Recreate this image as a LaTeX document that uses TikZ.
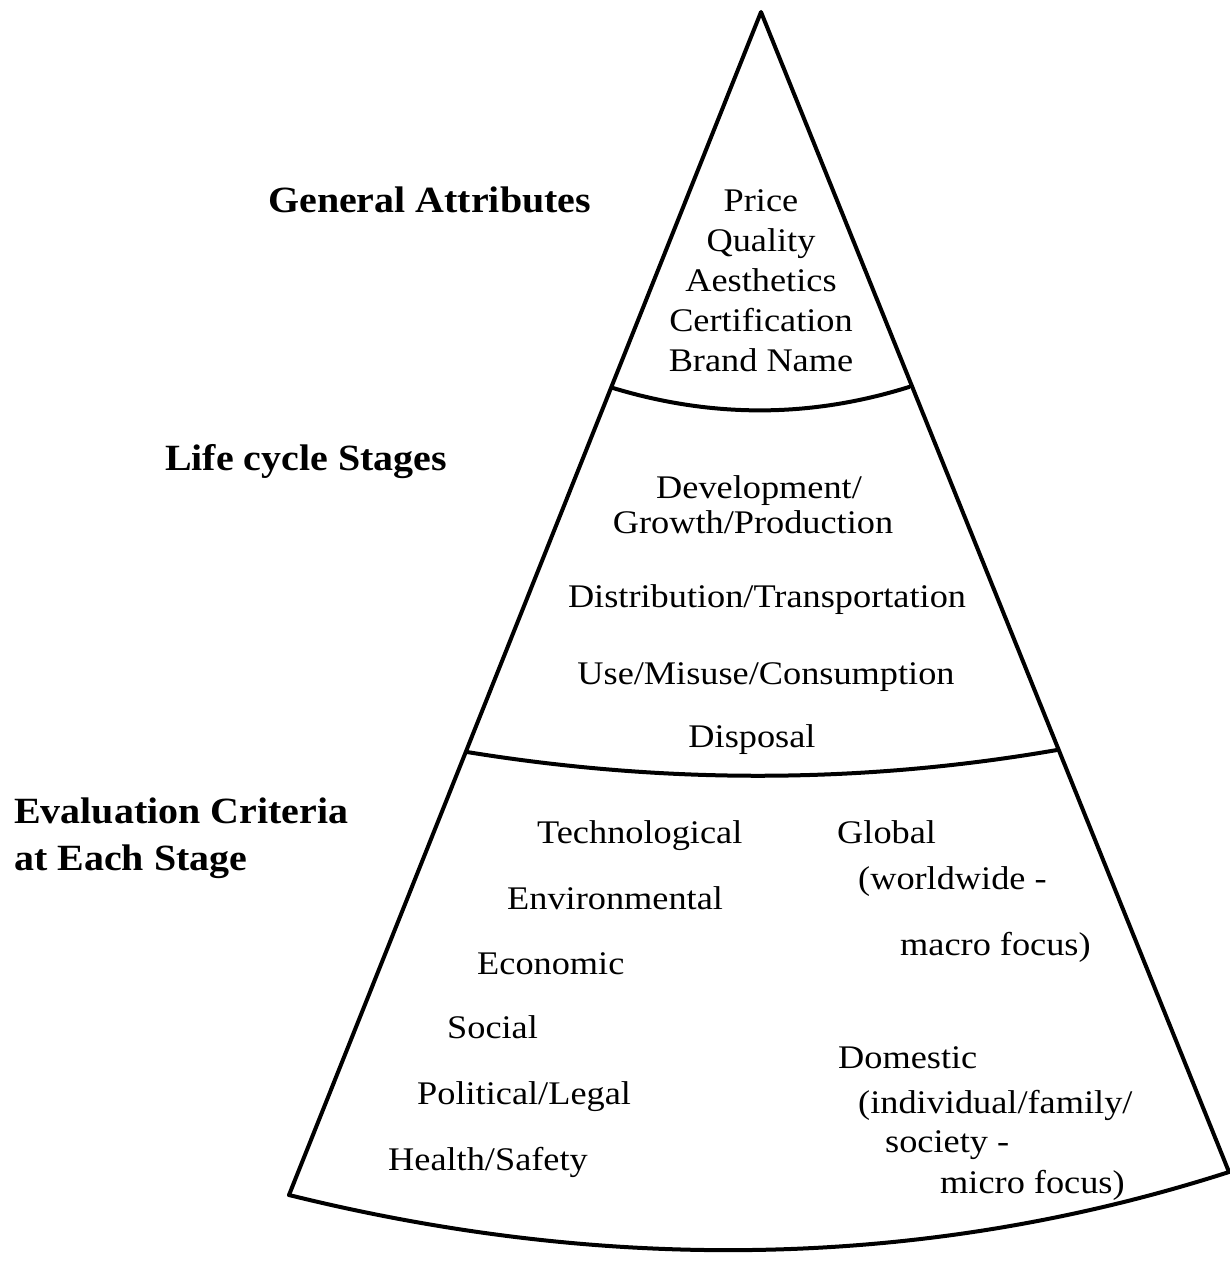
\documentclass[tikz,border=0pt]{standalone}
\usepackage{fontspec}
\setmainfont{Liberation Serif}[FakeStretch=1.1]
\newfontfamily\headfont{Liberation Serif}[FakeStretch=1.08]
\begin{document}
\begin{tikzpicture}[x=1pt,y=-1pt,
  edge/.style={line width=4pt,line join=round,line cap=round},
  item/.style={inner sep=0pt,anchor=base,font=\fontsize{33}{40}\selectfont},
  itemw/.style={item,anchor=base west},
  head/.style={inner sep=0pt,anchor=base west,font=\headfont\fontsize{37}{44}\selectfont\bfseries}]
\useasboundingbox (0,0) rectangle (1229,1263);
% outline of the pyramid segment
\coordinate (apex) at (761,12);
\coordinate (l1) at (613,388);  \coordinate (r1) at (909,387);
\coordinate (l2) at (467,752);  \coordinate (r2) at (1057,750);
\coordinate (l3) at (289,1195); \coordinate (r3) at (1229,1172);
\draw[edge] (l3) -- (apex) -- (r3);
\draw[edge] (l1) .. controls (712,418) and (810,418) .. (r1);
\draw[edge] (l2) .. controls (664,784) and (861,784) .. (r2);
\draw[edge] (l3) .. controls (600,1272) and (918,1272) .. (r3);

% level headings
\node[head] (h1) at (268,212) {General Attributes};
\node[head] (h2) at (165,470) {Life cycle Stages};
\node[head] (h3) at (14,823) {Evaluation Criteria};
\node[head] (h4) at (14,870) {at Each Stage};

% top level
\node[item] (a1) at (761,211) {Price};
\node[item] (a2) at (761,251) {Quality};
\node[item] (a3) at (761,291) {Aesthetics};
\node[item] (a4) at (761,331) {Certification};
\node[item] (a5) at (761,371) {Brand Name};

% middle level
\node[item] (b1) at (759,498) {Development/};
\node[item] (b2) at (753,533) {Growth/Production};
\node[item] (b3) at (767,607) {Distribution/Transportation};
\node[item] (b4) at (766,684) {Use/Misuse/Consumption};
\node[item] (b5) at (752,747) {Disposal};

% bottom level, left column
\node[itemw] (c1) at (537,843) {Technological};
\node[itemw] (c2) at (507,909) {Environmental};
\node[itemw] (c3) at (477,974) {Economic};
\node[itemw] (c4) at (447,1038) {Social};
\node[itemw] (c5) at (417,1104) {Political/Legal};
\node[itemw] (c6) at (388,1170) {Health/Safety};

% bottom level, right column
\node[itemw] (d1) at (837,843) {Global};
\node[itemw] (d2) at (858,889) {(worldwide -};
\node[itemw] (d3) at (900,955) {macro focus)};
\node[itemw] (d4) at (838,1068) {Domestic};
\node[itemw] (d5) at (858,1113) {(individual/family/};
\node[itemw] (d6) at (885,1152) {society -};
\node[itemw] (d7) at (940,1193) {micro focus)};
\end{tikzpicture}
\end{document}
